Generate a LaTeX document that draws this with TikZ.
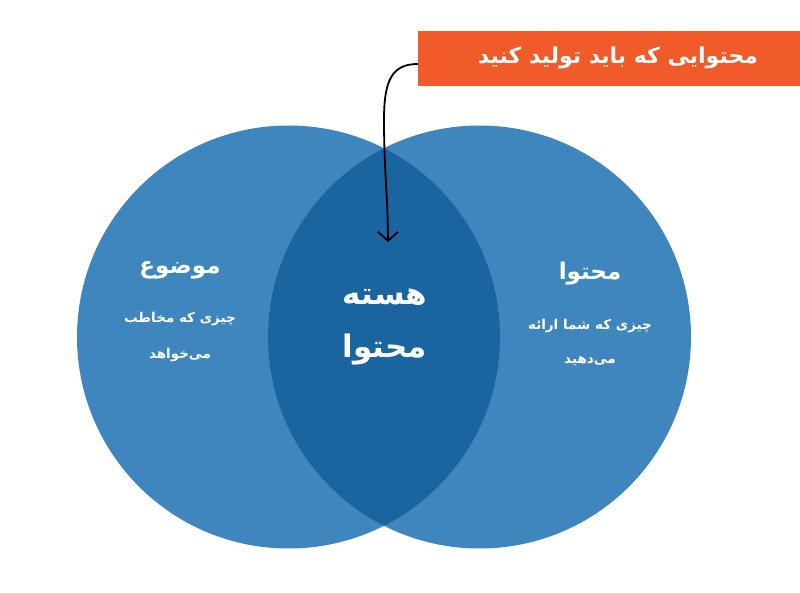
\documentclass[tikz,border=0pt]{standalone}
\usepackage{fontspec}
\usetikzlibrary{arrows.meta}
\TeXXeTstate=1
\newfontfamily\arabicfont[Script=Arabic]{DejaVu Sans}
\definecolor{circblue}{HTML}{3F86BE}
\definecolor{lensblue}{HTML}{1A65A0}
\definecolor{boxorange}{HTML}{F15A29}
\tikzset{
  title/.style={text=white,font=\arabicfont\bfseries\fontsize{23}{27}\selectfont,inner sep=0pt},
  sub/.style={text=white,font=\arabicfont\bfseries\fontsize{13.5}{17}\selectfont,inner sep=0pt},
  core/.style={text=white,font=\arabicfont\bfseries\fontsize{31}{36}\selectfont,inner sep=0pt},
  callout/.style={text=white,font=\arabicfont\bfseries\fontsize{22}{26}\selectfont,inner sep=0pt},
}
\begin{document}
\begin{tikzpicture}[x=1pt,y=-1pt]
\useasboundingbox (0,0) rectangle (800,593);
\fill[white] (0,0) rectangle (800,593);
% circles
\fill[circblue] (288.5,337) circle[radius=211.5];
\fill[circblue] (479.5,337) circle[radius=211.5];
\begin{scope}
\clip (288.5,337) circle[radius=211.5];
\fill[lensblue] (479.5,337) circle[radius=211.5];
\end{scope}
% callout box
\fill[boxorange] (418,31) rectangle (800,86);
\node[callout] (box) at (618,58) {\beginR محتوایی که باید تولید کنید\endR};
\coordinate (boxw) at (418,64);
\coordinate (tip) at (388,242);
\draw[line width=1.8pt,-{Straight Barb[length=9pt,width=20pt,line width=1.8pt]}] (boxw) .. controls (392,64) and (384,80) .. (384,120) .. controls (384,170) and (388,200) .. (tip);
% texts
\node[title] (topic) at (180,270) {\beginR موضوع\endR};
\node[sub] (topic1) at (180,319) {\beginR چیزی که مخاطب\endR};
\node[sub] (topic2) at (180,355) {\beginR می‌خواهد\endR};
\node[title] (cont) at (590,274) {\beginR محتوا\endR};
\node[sub] (cont1) at (590,326) {\beginR چیزی که شما ارائه\endR};
\node[sub] (cont2) at (590,361) {\beginR می‌دهید\endR};
\node[core] (core1) at (385,297) {\beginR هسته\endR};
\node[core] (core2) at (385,350) {\beginR محتوا\endR};
\end{tikzpicture}
\end{document}
